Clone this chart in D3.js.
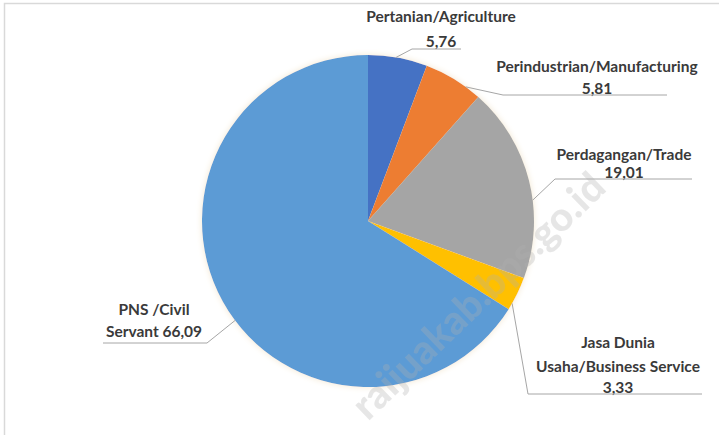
<!DOCTYPE html>
<html>
<head>
<meta charset="utf-8">
<script src="https://cdn.jsdelivr.net/npm/d3@7/dist/d3.min.js"></script>
<style>
  html, body { margin: 0; padding: 0; background: #fff; }
  svg { display: block; }
  text { font-family: Lato, "Open Sans", sans-serif; font-weight: 700; fill: #3a3a3a; }
</style>
</head>
<body>
<svg id="chart" width="719" height="435"></svg>
<script>
// ---- data ----
const categories = ["Pertanian/Agriculture", "Perindustrian/Manufacturing", "Perdagangan/Trade", "Jasa Dunia Usaha/Business Service", "PNS /Civil Servant"];
const values = [5.76, 5.81, 19.01, 3.33, 66.09];
const valueLabels = ["5,76", "5,81", "19,01", "3,33", "66,09"];
const labelLines = [
  ["Pertanian/Agriculture", "5,76"],
  ["Perindustrian/Manufacturing", "5,81"],
  ["Perdagangan/Trade", "19,01"],
  ["Jasa Dunia", "Usaha/Business Service", "3,33"],
  ["PNS /Civil", "Servant 66,09"]
];
const colors = ["#4472C4", "#ED7D31", "#A5A5A5", "#FFC000", "#5B9BD5"];

// ---- layout ----
const svg = d3.select("#chart");
const cx = 368, cy = 221, R = 166;

// border of chart area
svg.append("rect").attr("x", 4.5).attr("y", 3.5).attr("width", 740).attr("height", 460)
  .attr("fill", "none").attr("stroke", "#d9d9d9").attr("stroke-width", 1.5);

const defs = svg.append("defs");
const f = defs.append("filter").attr("id", "glow").attr("x", "-10%").attr("y", "-10%").attr("width", "120%").attr("height", "120%");
f.append("feGaussianBlur").attr("in", "SourceAlpha").attr("stdDeviation", 3).attr("result", "b");
f.append("feFlood").attr("flood-color", "#f3e7d0").attr("result", "c");
f.append("feComposite").attr("in", "c").attr("in2", "b").attr("operator", "in").attr("result", "s");
const fm = f.append("feMerge");
fm.append("feMergeNode").attr("in", "s");
fm.append("feMergeNode").attr("in", "SourceGraphic");

const pie = d3.pie().sort(null).value(d => d);
const arcs = pie(values);
const arc = d3.arc().innerRadius(0).outerRadius(R);

const g = svg.append("g").attr("transform", `translate(${cx},${cy})`).attr("filter", "url(#glow)");
g.selectAll("path").data(arcs).join("path")
  .attr("d", arc)
  .attr("fill", (d, i) => colors[i])
  .attr("stroke", "none");

// point on the pie edge at a given angle (radians, clockwise from 12 o'clock)
const edge = a => [cx + R * Math.sin(a), cy - R * Math.cos(a)];

// label placement (positions only)
const labelPos = [
  { x: 441, ys: [22, 47], under: [412, 461, 49], edgeA: 0.17 },
  { x: 597, ys: [72, 94], under: [503, 667, 95], edgeA: 0.63 },
  { x: 624, ys: [160, 178], under: [555, 692, 179], edgeA: 1.445 },
  { x: 618, ys: [348, 372, 393], under: [528, 702, 394], edgeA: 2.09 },
  { x: 154, ys: [315, 337], under: [103, 207, 343], edgeA: 4.07, left: true }
];

const lab = svg.append("g");
labelLines.forEach((lines, i) => {
  const p = labelPos[i];
  lines.forEach((t, j) => {
    lab.append("text").attr("x", p.x).attr("y", p.ys[j])
      .attr("text-anchor", "middle").attr("font-size", 15.5).text(t);
  });
  const e = edge(p.edgeA);
  let pts;
  if (p.left) pts = [[p.under[0], p.under[2]], [p.under[1], p.under[2]], e];
  else pts = [e, [p.under[0], p.under[2]], [p.under[1], p.under[2]]];
  lab.append("path").attr("d", d3.line()(pts))
    .attr("fill", "none").attr("stroke", "#a6a6a6").attr("stroke-width", 1);
});

// watermark
svg.append("text")
  .attr("transform", "translate(608,190) rotate(-44)")
  .attr("text-anchor", "end")
  .attr("font-size", 40)
  .style("font-family", "Lato, sans-serif")
  .style("font-weight", 900)
  .style("fill", "#b0b0b0")
  .style("opacity", 0.3)
  .text("raijuakab.bps.go.id");
</script>
</body>
</html>
